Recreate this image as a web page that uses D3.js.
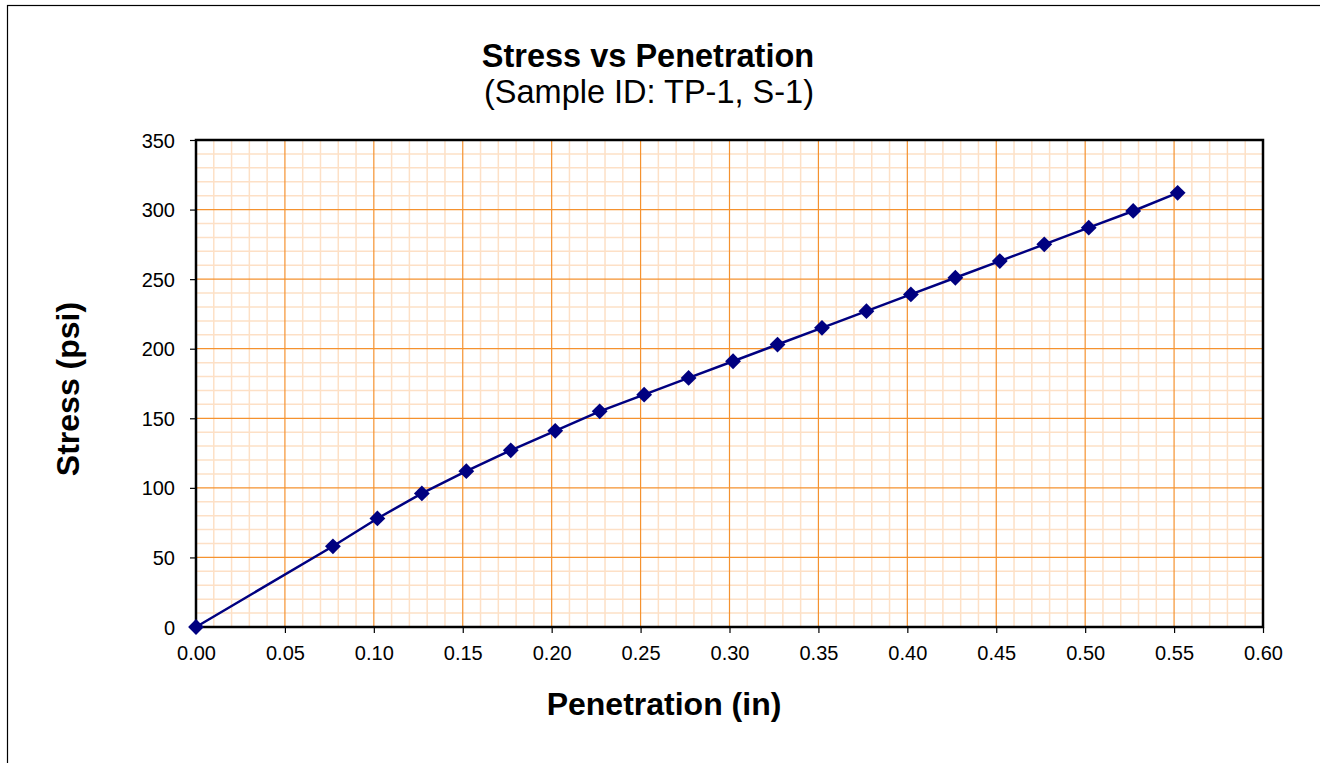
<!DOCTYPE html>
<html><head><meta charset="utf-8">
<script src="https://cdn.jsdelivr.net/npm/d3@7"></script>
<style>body{margin:0;background:#fff}svg{display:block}text{font-family:Arial,"Liberation Sans",sans-serif}</style>
</head><body>
<svg id="c" width="1320" height="763"></svg>
<script>
const penetration = [0, 0.077, 0.102, 0.127, 0.152, 0.177, 0.202, 0.227, 0.252, 0.277, 0.302, 0.327, 0.352, 0.377, 0.402, 0.427, 0.452, 0.477, 0.502, 0.527, 0.552];
const stress = [0, 58, 78, 96, 112, 127, 141, 155, 167, 179, 191, 203, 215, 227, 239, 251, 263, 275, 287, 299, 312];
const xTicks = [0, 0.05, 0.10, 0.15, 0.20, 0.25, 0.30, 0.35, 0.40, 0.45, 0.50, 0.55, 0.60];
const yTicks = [0, 50, 100, 150, 200, 250, 300, 350];
const title = "Stress vs Penetration";
const subtitle = "(Sample ID: TP-1, S-1)";
const xLabel = "Penetration (in)";
const yLabel = "Stress (psi)";

const svg = d3.select("#c");
const L = 196, R = 1263, T = 140, B = 627;
const x = d3.scaleLinear().domain([0, 0.6]).range([L, R]);
const y = d3.scaleLinear().domain([0, 350]).range([B, T]);

// outer frame
svg.append("rect").attr("x", 7.5).attr("y", 5.5).attr("width", 1330).attr("height", 780)
  .attr("fill", "none").attr("stroke", "#000").attr("stroke-width", 1.2);

// minor grid
const xMinor = d3.range(0, 61).map(i => i / 100).filter((v, i) => i % 5 !== 0);
const yMinor = d3.range(0, 36).map(i => i * 10).filter((v, i) => i % 5 !== 0);
const g = svg.append("g");
g.selectAll(".xm").data(xMinor).join("line")
  .attr("x1", d => x(d)).attr("x2", d => x(d)).attr("y1", T).attr("y2", B)
  .attr("stroke", "#fde0c6").attr("stroke-width", 1.5);
g.selectAll(".ym").data(yMinor).join("line")
  .attr("y1", d => y(d)).attr("y2", d => y(d)).attr("x1", L).attr("x2", R)
  .attr("stroke", "#fde0c6").attr("stroke-width", 1.5);
// major grid
g.selectAll(".xM").data(xTicks.slice(1, -1)).join("line")
  .attr("x1", d => x(d)).attr("x2", d => x(d)).attr("y1", T).attr("y2", B)
  .attr("stroke", "#f5922f").attr("stroke-width", 1.2);
g.selectAll(".yM").data(yTicks.slice(1, -1)).join("line")
  .attr("y1", d => y(d)).attr("y2", d => y(d)).attr("x1", L).attr("x2", R)
  .attr("stroke", "#f5922f").attr("stroke-width", 1.2);

// plot border
svg.append("rect").attr("x", L).attr("y", T).attr("width", R - L).attr("height", B - T)
  .attr("fill", "none").attr("stroke", "#000").attr("stroke-width", 2.5);

// axes
const xAxis = svg.append("g").attr("transform", `translate(0,${B})`)
  .call(d3.axisBottom(x).tickValues(xTicks).tickFormat(d3.format(".2f")).tickSize(6).tickPadding(10));
const yAxis = svg.append("g").attr("transform", `translate(${L},0)`)
  .call(d3.axisLeft(y).tickValues(yTicks).tickSize(6).tickPadding(15));
[xAxis, yAxis].forEach(a => {
  a.select(".domain").remove();
  a.selectAll("line").attr("stroke", "#000").attr("stroke-width", 1.2);
  a.selectAll("text").attr("font-size", 20).attr("fill", "#000").attr("font-family", "Arial, 'Liberation Sans', sans-serif");
});
xAxis.selectAll("text").attr("dy", "0.85em");
yAxis.selectAll("text").attr("dy", "0.35em");

// line + markers
const pts = penetration.map((p, i) => [p, stress[i]]);
svg.append("path").datum(pts)
  .attr("d", d3.line().x(d => x(d[0])).y(d => y(d[1])))
  .attr("fill", "none").attr("stroke", "#000080").attr("stroke-width", 2.5);
svg.selectAll(".mk").data(pts).join("path")
  .attr("d", d3.symbol(d3.symbolSquare, 125)())
  .attr("transform", d => `translate(${x(d[0])},${y(d[1])}) rotate(45)`)
  .attr("fill", "#000080");

// titles
svg.append("text").attr("x", 648).attr("y", 67).attr("text-anchor", "middle")
  .attr("font-size", 32.5).attr("font-weight", "bold").text(title);
svg.append("text").attr("x", 649).attr("y", 103).attr("text-anchor", "middle")
  .attr("font-size", 32.5).text(subtitle);
svg.append("text").attr("x", 664).attr("y", 715).attr("text-anchor", "middle")
  .attr("font-size", 32).attr("font-weight", "bold").text(xLabel);
svg.append("text").attr("transform", "translate(79,389) rotate(-90)").attr("text-anchor", "middle")
  .attr("font-size", 32).attr("font-weight", "bold").text(yLabel);
</script>
</body></html>
